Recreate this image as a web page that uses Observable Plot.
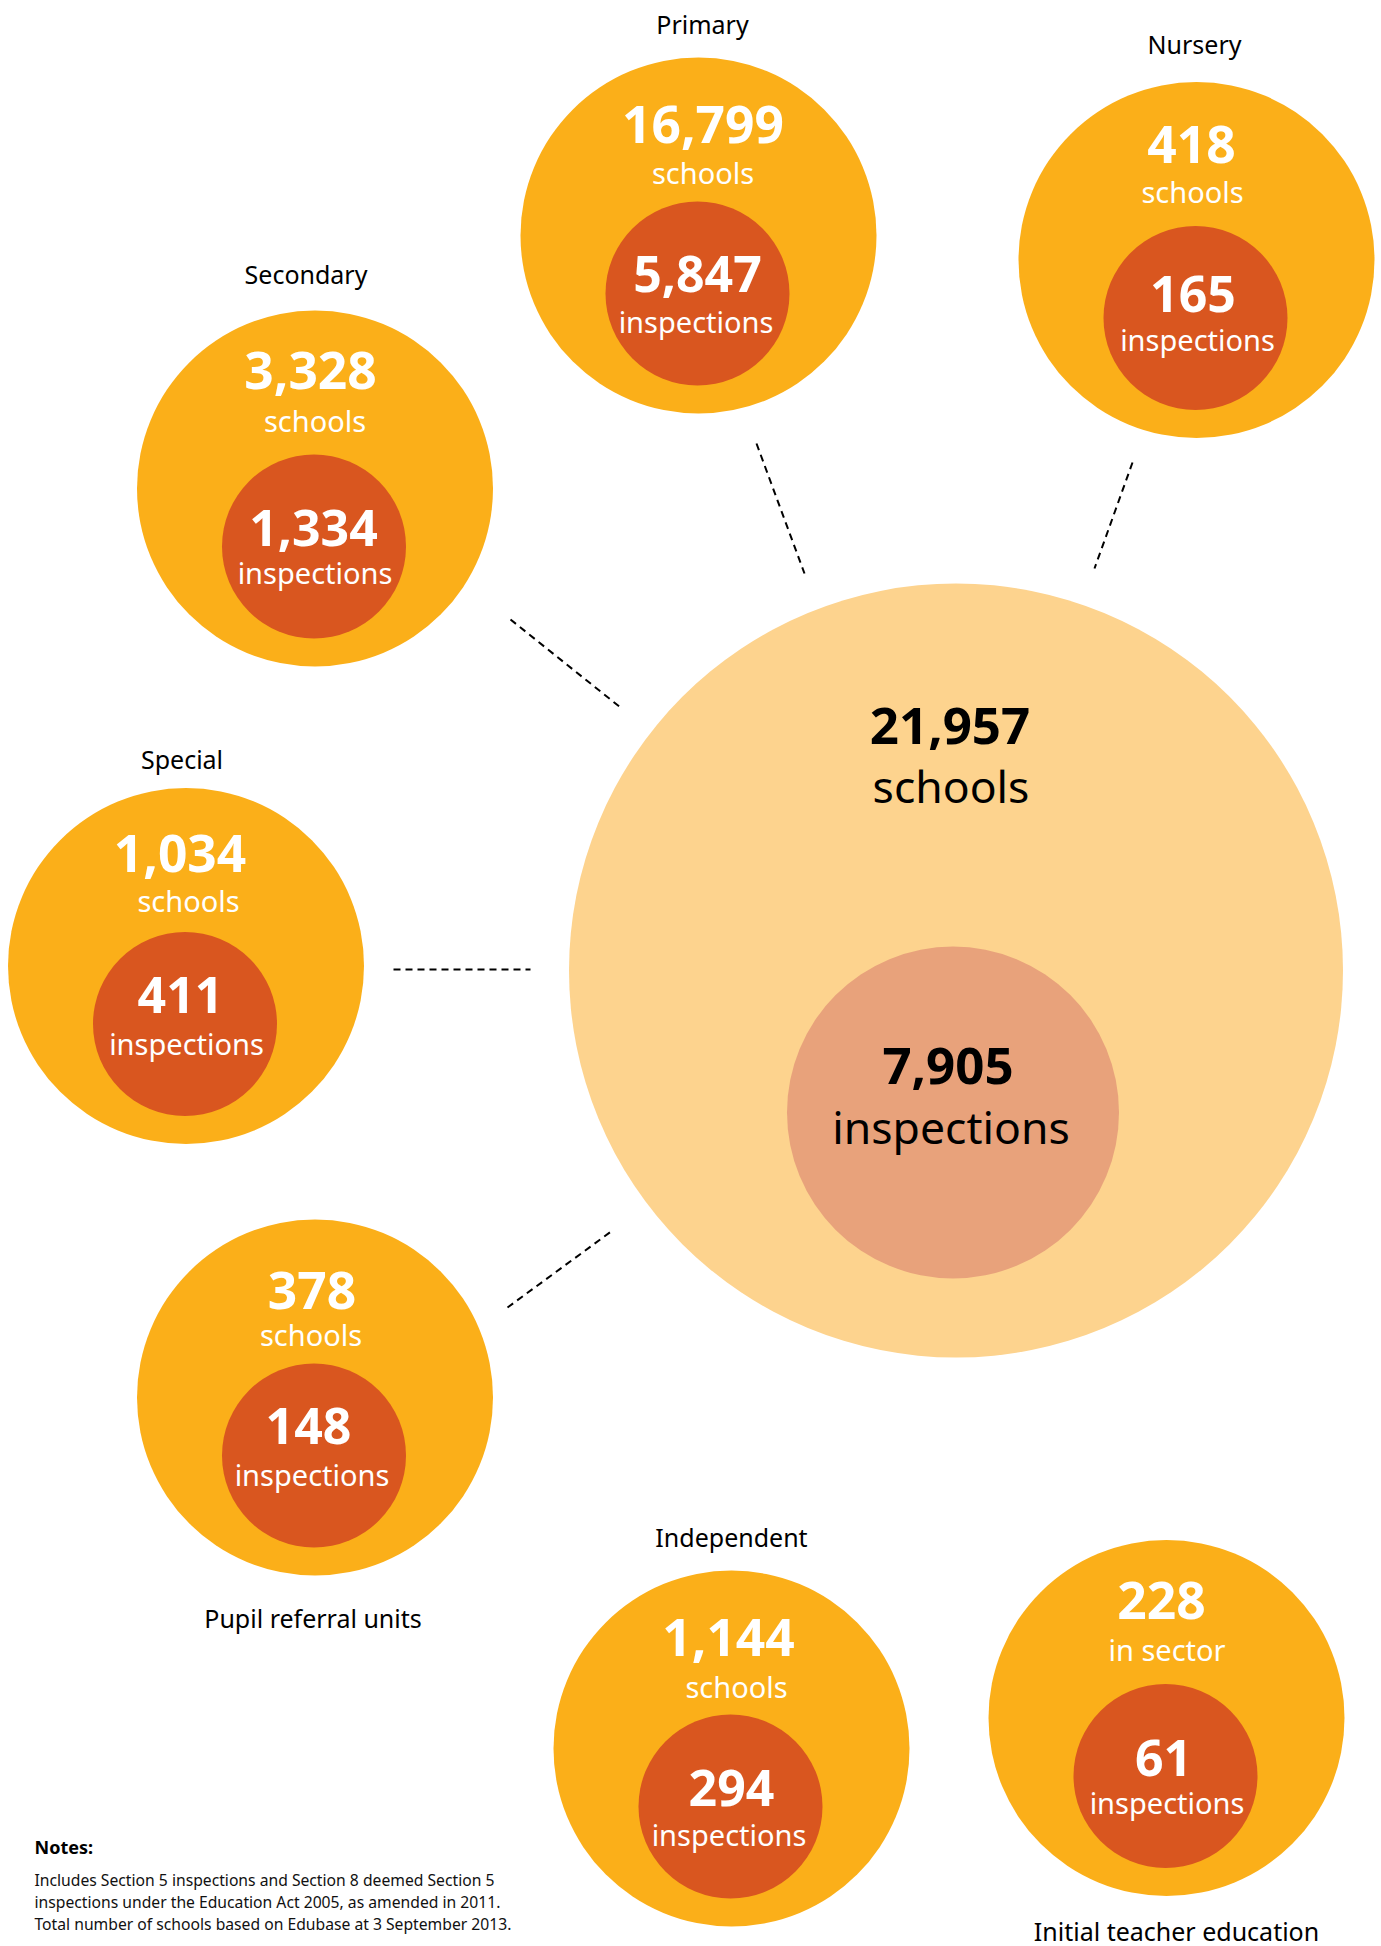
<!DOCTYPE html>
<html>
<head>
<meta charset="utf-8">
<script src="https://cdn.jsdelivr.net/npm/d3@7"></script>
<script src="https://cdn.jsdelivr.net/npm/@observablehq/plot@0.6"></script>
<style>
  html, body { margin: 0; padding: 0; background: #fff; overflow: hidden; }
  #chart svg { display: block; }
</style>
</head>
<body>
<div id="chart"></div>
<script>
// ---- data ----
const sectors = ["Primary", "Nursery", "Secondary", "Special", "Pupil referral units", "Independent", "Initial teacher education"];
const schools = [16799, 418, 3328, 1034, 378, 1144, 228];
const inspections = [5847, 165, 1334, 411, 148, 294, 61];
const unitLabels = ["schools", "schools", "schools", "schools", "schools", "schools", "in sector"];
const totalSchools = 21957;
const totalInspections = 7905;
const notesTitle = "Notes:";
const notesLines = [
  "Includes Section 5 inspections and Section 8 deemed Section 5",
  "inspections under the Education Act 2005, as amended in 2011.",
  "Total number of schools based on Edubase at 3 September 2013."
];

// ---- layout (page positions, not data) ----
const layoutX = [698, 1196, 314.5, 185.5, 314.5, 731, 1166];
const layoutY = [235, 259.5, 488, 965.5, 1397, 1748, 1717.5];
const labelDx = [4, -2, -9, -4, -2, 0, 10];
const labelDy = [-202, -206, -205, -197, 230, -202, 223];
// text offsets relative to each outer circle centre
const numDx = [4.5, -5, -4.5, -6, -3, -3, -5];
const numDy = [-93, -97.5, -100, -94.5, -89, -93, -99.5];
const unitDx = [4.5, -4, 0, 2.5, -4, 5, 0.5];
const unitDy = [-52, -57.5, -57, -54.5, -52, -51, -57.5];
const inNumDx = [-1, -3.5, -1.5, -5.5, -6.5, 0, -3];
const inNumDy = [56, 51.5, 57, 46.5, 46, 57, 57.5];
const inWordDx = [-2.5, 1, 0, 0.5, -3, -2.5, 0.5];
const inWordDy = [97, 90.5, 95, 88.5, 88, 97, 95.5];
const hub = {x: 955.5, y: 970};
const connectors = [
  {x1: 756, y1: 443, x2: 804, y2: 573},
  {x1: 1132, y1: 462, x2: 1094, y2: 568},
  {x1: 510, y1: 619, x2: 620, y2: 707},
  {x1: 393, y1: 969, x2: 530, y2: 969},
  {x1: 507, y1: 1307, x2: 612, y2: 1230}
];

const fmt = d3.format(",");
const rows = sectors.map((s, i) => ({
  sector: s, schools: schools[i], inspections: inspections[i], unit: unitLabels[i],
  x: layoutX[i], y: layoutY[i],
  nx: layoutX[i] + numDx[i], ny: layoutY[i] + numDy[i],
  ux: layoutX[i] + unitDx[i], uy: layoutY[i] + unitDy[i],
  ix: layoutX[i] + inNumDx[i], iy: layoutY[i] + inNumDy[i],
  wx: layoutX[i] + inWordDx[i], wy: layoutY[i] + inWordDy[i],
  lx: layoutX[i] + labelDx[i], ly: layoutY[i] + labelDy[i]
}));
const hubRow = [{x: hub.x, y: hub.y, schools: totalSchools, inspections: totalInspections}];
const noteTitleRow = [{x: 34, y: 1853, t: notesTitle}];
const noteRows = notesLines.map((t, i) => ({x: 34, y: 1885 + i * 22, t}));

const FONT = "'Noto Sans', 'Open Sans', sans-serif";
const ORANGE = "#FBAF19", RED = "#D9561F", LIGHT = "#FDD38E", SALMON = "#E8A27B";

const W = 1381, H = 1946;
const chart = Plot.plot({
  width: W, height: H,
  margin: 0,
  x: {domain: [0, W], range: [0, W], axis: null},
  y: {domain: [0, H], range: [0, H], axis: null},
  style: {fontFamily: FONT, background: "#fff"},
  marks: [
    // hub circles
    Plot.dot(hubRow, {x: "x", y: "y", r: 387, fill: LIGHT, stroke: null}),
    Plot.dot(hubRow, {x: "x", y: "y", r: 166, dx: -3, dy: 142, fill: SALMON, stroke: null}),
    Plot.text(hubRow, {x: "x", y: "y", dx: -6, dy: -227, text: d => fmt(d.schools), fill: "#000", fontWeight: 700, fontSize: 51, lineAnchor: "bottom"}),
    Plot.text(hubRow, {x: "x", y: "y", dx: -5, dy: -168, text: () => "schools", fill: "#000", fontSize: 44.5, lineAnchor: "bottom"}),
    Plot.text(hubRow, {x: "x", y: "y", dx: -8, dy: 113, text: d => fmt(d.inspections), fill: "#000", fontWeight: 700, fontSize: 51, lineAnchor: "bottom"}),
    Plot.text(hubRow, {x: "x", y: "y", dx: -5, dy: 173, text: () => "inspections", fill: "#000", fontSize: 44.5, lineAnchor: "bottom"}),
    // connectors
    Plot.link(connectors, {x1: "x1", y1: "y1", x2: "x2", y2: "y2", stroke: "#000", strokeWidth: 2, strokeDasharray: "7,5"}),
    // sector circles
    Plot.dot(rows, {x: "x", y: "y", r: 178, fill: ORANGE, stroke: null}),
    Plot.dot(rows, {x: "x", y: "y", r: 92, dx: -1, dy: 58, fill: RED, stroke: null}),
    Plot.text(rows, {x: "nx", y: "ny", text: d => fmt(d.schools), fill: "#fff", fontWeight: 700, fontSize: 51.5, lineAnchor: "bottom"}),
    Plot.text(rows, {x: "ux", y: "uy", text: "unit", fill: "#fff", fontSize: 29, lineAnchor: "bottom"}),
    Plot.text(rows, {x: "ix", y: "iy", text: d => fmt(d.inspections), fill: "#fff", fontWeight: 700, fontSize: 50, lineAnchor: "bottom"}),
    Plot.text(rows, {x: "wx", y: "wy", text: () => "inspections", fill: "#fff", fontSize: 29, lineAnchor: "bottom"}),
    // sector labels
    Plot.text(rows, {x: "lx", y: "ly", text: "sector", fill: "#000", fontSize: 25, lineAnchor: "bottom"}),
    // notes
    Plot.text(noteTitleRow, {x: "x", y: "y", text: "t", textAnchor: "start", fill: "#000", fontSize: 18, fontWeight: 700, lineAnchor: "bottom"}),
    Plot.text(noteRows, {x: "x", y: "y", text: "t", textAnchor: "start", fill: "#111", fontSize: 15.7, lineAnchor: "bottom"})
  ]
});
document.getElementById("chart").appendChild(chart);
</script>
</body>
</html>
